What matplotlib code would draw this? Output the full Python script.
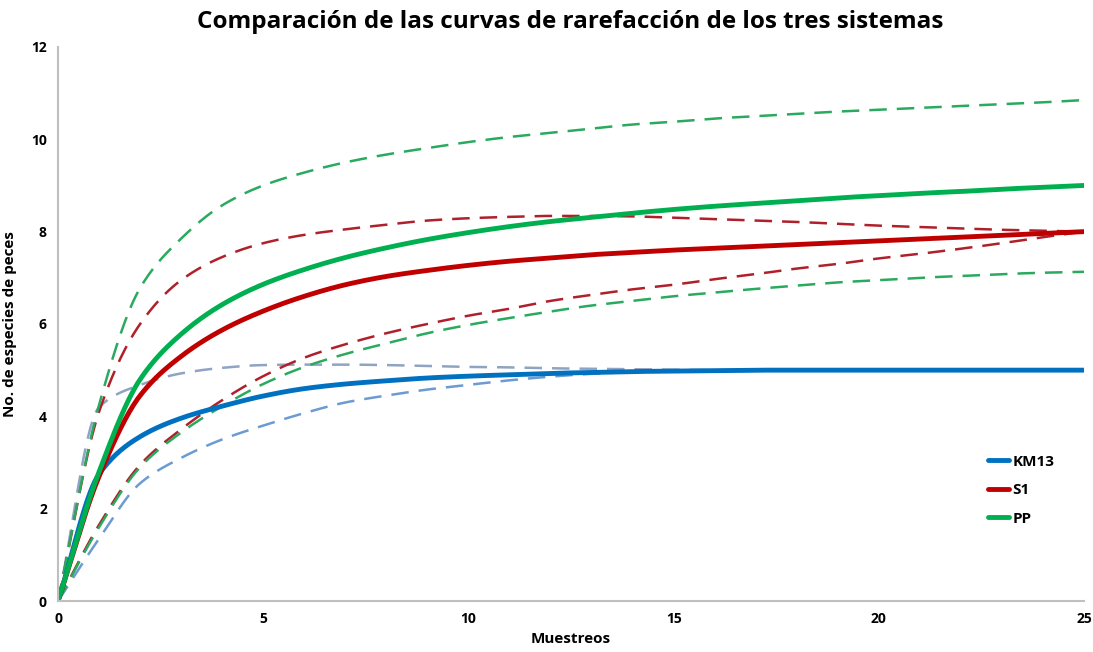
import matplotlib
matplotlib.use('Agg')
import matplotlib.pyplot as plt
import numpy as np

plt.rcParams['font.family'] = ['Open Sans', 'DejaVu Sans']

# Muestreos 0..25
muestreos = list(range(26))

# Curvas medias (especies esperadas)
km13 = [0, 2.75, 3.56, 3.96, 4.22, 4.44, 4.6, 4.7, 4.77, 4.83, 4.87, 4.9, 4.93,
        4.95, 4.97, 4.98, 4.99, 5.0, 5.0, 5.0, 5.0, 5.0, 5.0, 5.0, 5.0, 5.0]
s1 = [0, 2.7, 4.45, 5.3, 5.87, 6.28, 6.6, 6.85, 7.03, 7.16, 7.27, 7.36, 7.43,
      7.5, 7.55, 7.6, 7.64, 7.68, 7.72, 7.76, 7.8, 7.84, 7.88, 7.92, 7.96, 8.0]
pp = [0, 2.8, 4.8, 5.78, 6.42, 6.86, 7.18, 7.44, 7.65, 7.83, 7.98, 8.11, 8.22,
      8.31, 8.4, 8.48, 8.55, 8.61, 8.67, 8.73, 8.78, 8.83, 8.87, 8.92, 8.96, 9.0]

# Intervalos de confianza (límite superior / inferior)
km13_sup = [0, 4.2, 4.68, 4.93, 5.05, 5.11, 5.12, 5.12, 5.11, 5.09, 5.07, 5.06, 5.04,
            5.03, 5.02, 5.01, 5.0, 5.0, 5.0, 5.0, 5.0, 5.0, 5.0, 5.0, 5.0, 5.0]
km13_inf = [0, 1.35, 2.55, 3.1, 3.5, 3.8, 4.07, 4.3, 4.45, 4.58, 4.68, 4.78, 4.86,
            4.92, 4.96, 4.98, 4.99, 5.0, 5.0, 5.0, 5.0, 5.0, 5.0, 5.0, 5.0, 5.0]
s1_sup = [0, 4.1, 6.0, 6.95, 7.45, 7.75, 7.93, 8.05, 8.15, 8.24, 8.29, 8.32, 8.34,
          8.34, 8.33, 8.3, 8.27, 8.24, 8.21, 8.17, 8.13, 8.1, 8.07, 8.04, 8.02, 8.0]
s1_inf = [0, 1.65, 2.95, 3.72, 4.35, 4.87, 5.27, 5.56, 5.8, 6.0, 6.18, 6.33, 6.5,
          6.63, 6.75, 6.85, 6.97, 7.08, 7.2, 7.3, 7.42, 7.52, 7.63, 7.75, 7.88, 8.0]
pp_sup = [0, 4.25, 6.78, 7.85, 8.57, 9.0, 9.28, 9.5, 9.67, 9.81, 9.94, 10.05, 10.14,
          10.23, 10.32, 10.38, 10.45, 10.5, 10.55, 10.6, 10.64, 10.68, 10.72, 10.76, 10.8, 10.85]
pp_inf = [0, 1.6, 2.9, 3.65, 4.22, 4.7, 5.07, 5.35, 5.58, 5.8, 5.98, 6.13, 6.27,
          6.4, 6.5, 6.6, 6.68, 6.76, 6.83, 6.9, 6.95, 7.0, 7.04, 7.08, 7.11, 7.13]

C_KM13 = '#0070C0'
C_S1 = '#C00000'
C_PP = '#00B050'


def suavizar(x, y, n=20):
    """Trazo suavizado entre puntos (Hermite cúbica monótona, sin rebotes)."""
    x = np.asarray(x, float)
    y = np.asarray(y, float)
    h = np.diff(x)
    d = np.diff(y) / h
    m = np.zeros_like(y)
    m[0], m[-1] = d[0], d[-1]
    for i in range(1, len(y) - 1):
        if d[i - 1] * d[i] > 0:
            w1 = 2 * h[i] + h[i - 1]
            w2 = h[i] + 2 * h[i - 1]
            m[i] = (w1 + w2) / (w1 / d[i - 1] + w2 / d[i])
    xs, ys = [], []
    t = np.linspace(0, 1, n)
    for i in range(len(x) - 1):
        tt = t if i == 0 else t[1:]
        h00 = 2 * tt ** 3 - 3 * tt ** 2 + 1
        h10 = tt ** 3 - 2 * tt ** 2 + tt
        h01 = -2 * tt ** 3 + 3 * tt ** 2
        h11 = tt ** 3 - tt ** 2
        xs.append(x[i] + tt * h[i])
        ys.append(h00 * y[i] + h10 * h[i] * m[i] + h01 * y[i + 1] + h11 * h[i] * m[i + 1])
    return np.concatenate(xs), np.concatenate(ys)


fig = plt.figure(figsize=(10.93, 6.52), dpi=100)
ax = fig.add_axes([0.0531, 0.0782, 0.9387, 0.8498])

dash = (0, (7, 4))
for serie, color in [(km13_sup, '#8FA3C2'), (km13_inf, '#6C9AD2'),
                     (s1_sup, '#B0202A'), (s1_inf, '#B0202A'),
                     (pp_sup, '#2AAA5E'), (pp_inf, '#2AAA5E')]:
    ax.plot(*suavizar(muestreos, serie), color=color, lw=1.8, linestyle=dash)

for serie, color, nombre in [(km13, C_KM13, 'KM13'), (s1, C_S1, 'S1'), (pp, C_PP, 'PP')]:
    ax.plot(*suavizar(muestreos, serie), color=color, lw=3.5, label=nombre,
            solid_capstyle='round')

ax.set_xlim(0, 25)
ax.set_ylim(0, 12)
ax.set_xticks([0, 5, 10, 15, 20, 25])
ax.set_yticks([0, 2, 4, 6, 8, 10, 12])
ax.tick_params(length=0, labelsize=10, pad=8)
for lbl in ax.get_xticklabels() + ax.get_yticklabels():
    lbl.set_fontweight('bold')

for side in ['top', 'right']:
    ax.spines[side].set_visible(False)
for side in ['left', 'bottom']:
    ax.spines[side].set_color('#BFBFBF')
    ax.spines[side].set_linewidth(1.5)

ax.set_xlabel('Muestreos', fontsize=11, fontweight='bold', labelpad=4)
ax.set_ylabel('No. de especies de peces', fontsize=11, fontweight='bold', labelpad=10)
fig.suptitle('Comparación de las curvas de rarefacción de los tres sistemas',
             fontsize=17.5, fontweight='bold', x=0.522, y=0.985)

ax.legend(loc='center left', bbox_to_anchor=(0.893, 0.2), frameon=False,
          handlelength=1.4, handletextpad=0.2, labelspacing=0.95,
          prop={'weight': 'bold', 'size': 11})

fig.savefig('out.png', dpi=100)
